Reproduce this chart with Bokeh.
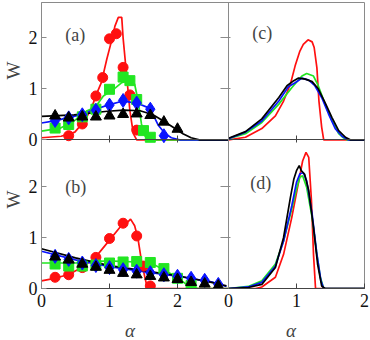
import math
from bokeh.plotting import figure
from bokeh.layouts import row, column
from bokeh.models import Range1d, LinearAxis, FixedTicker, Label, Span
from bokeh.embed import file_html
from bokeh.resources import INLINE

# ---------------- panel (a) ----------------
a_red_mx = [0.4, 0.6, 0.8, 0.9, 1.0, 1.1, 1.2, 1.3, 1.4]
a_red_my = [0.08, 0.31, 0.86, 1.22, 1.98, 2.08, 1.42, 0.88, 0.19]
a_red_lx = [0, 0.29, 0.49, 0.64, 0.74, 0.81, 0.88, 0.96, 1.03, 1.08, 1.13, 1.18, 1.2, 1.25, 1.3, 1.35, 1.4, 2.75]
a_red_ly = [0.04, 0.07, 0.15, 0.38, 0.64, 0.9, 1.12, 1.58, 1.94, 2.23, 2.4, 2.4, 2.0, 1.29, 0.57, 0.12, 0.0, 0.0]

a_grn_mx = [0.2, 0.4, 0.6, 0.8, 1.0, 1.2, 1.3, 1.4, 1.5, 1.6]
a_grn_my = [0.23, 0.30, 0.45, 0.60, 0.99, 1.23, 1.16, 0.79, 0.18, 0.05]
a_grn_lx = [0, 0.28, 0.47, 0.67, 0.79, 0.91, 1.06, 1.18, 1.28, 1.37, 1.42, 1.47, 1.52, 1.57, 2.75]
a_grn_ly = [0.17, 0.23, 0.36, 0.57, 0.64, 0.86, 0.99, 1.12, 1.16, 1.09, 0.77, 0.31, 0.08, 0.0, 0.0]

a_blu_mx = [0.2, 0.4, 0.6, 0.8, 1.0, 1.2, 1.4, 1.6, 1.8]
a_blu_my = [0.38, 0.43, 0.49, 0.58, 0.68, 0.77, 0.72, 0.60, 0.08]
a_blu_lx = [0, 0.19, 0.6, 0.79, 1.0, 1.2, 1.4, 1.55, 1.65, 1.72, 1.82, 1.91, 2.03, 2.75]
a_blu_ly = [0.33, 0.37, 0.5, 0.6, 0.69, 0.76, 0.72, 0.64, 0.47, 0.28, 0.12, 0.04, 0.0, 0.0]

a_blk_mx = [0.2, 0.4, 0.6, 0.8, 1.0, 1.2, 1.4, 1.6, 1.8, 2.0]
a_blk_my = [0.47, 0.43, 0.45, 0.45, 0.47, 0.50, 0.51, 0.48, 0.35, 0.21]
a_blk_lx = [0, 0.48, 0.97, 1.21, 1.45, 1.64, 1.78, 1.93, 2.08, 2.2, 2.32, 2.75]
a_blk_ly = [0.46, 0.49, 0.56, 0.58, 0.57, 0.49, 0.38, 0.25, 0.12, 0.04, 0.0, 0.0]

# ---------------- panel (b) ----------------
b_red_mx = [0.2, 0.4, 0.6, 0.8, 1.0, 1.2, 1.4, 1.5, 1.6]
b_red_my = [0.22, 0.27, 0.41, 0.61, 0.98, 1.28, 1.03, 0.44, 0.05]
b_red_lx = [0, 0.19, 0.39, 0.58, 0.78, 0.97, 1.16, 1.26, 1.31, 1.37, 1.42, 1.47, 1.52, 1.55, 1.57, 2.75]
b_red_ly = [0.15, 0.2, 0.27, 0.40, 0.59, 0.9, 1.21, 1.29, 1.36, 1.23, 0.97, 0.54, 0.22, 0.05, 0.0, 0.0]

b_grn_mx = [0.2, 0.4, 0.6, 0.8, 1.0, 1.2, 1.4, 1.6, 1.8, 2.0, 2.2]
b_grn_my = [0.48, 0.44, 0.44, 0.46, 0.50, 0.52, 0.53, 0.51, 0.39, 0.20, 0.06]
b_grn_lx = [0, 0.5, 0.97, 1.6, 1.79, 2.0, 2.12, 2.22, 2.3, 2.75]
b_grn_ly = [0.5, 0.5, 0.54, 0.51, 0.37, 0.22, 0.09, 0.03, 0.0, 0.0]

b_blu_mx = [0.2, 0.4, 0.6, 0.8, 1.0, 1.2, 1.4, 1.6, 1.8, 2.0, 2.2, 2.4, 2.6]
b_blu_my = [0.63, 0.57, 0.50, 0.45, 0.41, 0.37, 0.34, 0.31, 0.27, 0.24, 0.20, 0.16, 0.08]
b_blu_lx = [0, 0.5, 1.0, 1.5, 2.0, 2.5, 2.72]
b_blu_ly = [0.73, 0.56, 0.43, 0.33, 0.24, 0.13, 0.04]

b_blk_mx = [0.2, 0.4, 0.6, 0.8, 1.0, 1.2, 1.4, 1.6, 1.8, 2.0, 2.2, 2.4, 2.6]
b_blk_my = [0.62, 0.56, 0.48, 0.42, 0.36, 0.30, 0.27, 0.24, 0.21, 0.18, 0.12, 0.09, 0.05]
b_blk_lx = [0, 0.5, 1.0, 1.5, 2.0, 2.5, 2.72]
b_blk_ly = [0.78, 0.6, 0.45, 0.35, 0.25, 0.12, 0.05]

# ---------------- panel (c) ----------------
c_red_x = [0, 0.25, 0.49, 0.69, 0.81, 0.91, 0.98, 1.05, 1.10, 1.17, 1.23, 1.26, 1.30, 1.33, 1.37, 1.40, 2.0]
c_red_y = [0.0, 0.05, 0.22, 0.47, 0.76, 1.09, 1.45, 1.74, 1.87, 1.96, 1.92, 1.81, 1.41, 0.76, 0.25, 0.0, 0.0]
c_grn_x = [0, 0.25, 0.49, 0.74, 0.93, 1.08, 1.15, 1.25, 1.32, 1.42, 1.52, 1.62, 1.69, 1.74, 2.0]
c_grn_y = [0.02, 0.12, 0.34, 0.70, 1.02, 1.25, 1.30, 1.25, 1.06, 0.70, 0.38, 0.12, 0.04, 0.0, 0.0]
c_blu_x = [0, 0.25, 0.49, 0.74, 0.88, 0.98, 1.08, 1.18, 1.27, 1.37, 1.47, 1.57, 1.67, 1.76, 2.0]
c_blu_y = [0.02, 0.15, 0.37, 0.76, 1.04, 1.12, 1.21, 1.17, 1.06, 0.83, 0.51, 0.22, 0.07, 0.0, 0.0]
c_blk_x = [0, 0.25, 0.49, 0.74, 0.86, 0.96, 1.03, 1.13, 1.23, 1.32, 1.42, 1.52, 1.62, 1.72, 1.79, 2.0]
c_blk_y = [0.03, 0.16, 0.41, 0.83, 1.06, 1.16, 1.21, 1.19, 1.14, 1.0, 0.73, 0.44, 0.18, 0.05, 0.0, 0.0]

# ---------------- panel (d) ----------------
d_red_x = [0, 0.4, 0.49, 0.69, 0.81, 0.93, 1.03, 1.09, 1.14, 1.18, 1.22, 1.25, 1.28, 2.0]
d_red_y = [0.0, 0.0, 0.03, 0.22, 0.67, 1.39, 2.08, 2.5, 2.67, 2.57, 1.72, 0.67, 0.0, 0.0]
d_grn_x = [0, 0.29, 0.49, 0.69, 0.81, 0.93, 1.0, 1.05, 1.09, 1.15, 1.23, 1.30, 1.35, 1.40, 2.0]
d_grn_y = [0.0, 0.04, 0.15, 0.48, 0.93, 1.56, 1.95, 2.18, 2.21, 1.98, 1.39, 0.67, 0.22, 0.0, 0.0]
d_blu_x = [0, 0.29, 0.49, 0.69, 0.81, 0.93, 1.0, 1.05, 1.10, 1.15, 1.23, 1.30, 1.36, 1.40, 2.0]
d_blu_y = [0.0, 0.03, 0.12, 0.44, 0.93, 1.62, 2.08, 2.25, 2.27, 2.11, 1.46, 0.67, 0.15, 0.0, 0.0]
d_blk_x = [0, 0.29, 0.49, 0.69, 0.81, 0.91, 0.96, 1.0, 1.04, 1.07, 1.12, 1.18, 1.25, 1.31, 1.37, 1.42, 2.0]
d_blk_y = [0.0, 0.02, 0.08, 0.41, 1.0, 1.78, 2.14, 2.31, 2.41, 2.31, 2.24, 1.92, 1.2, 0.48, 0.05, 0.0, 0.0]

# ticks / labels
y_ticks = [0, 1, 2]
x_ticks = [0, 1, 2]
panel_names = ["(a)", "(b)", "(c)", "(d)"]
y_label = "W"
x_label = "\u03b1"

RED, GRN, BLU, BLK = "#ff1010", "#22e622", "#0a14ff", "#000000"
SERIF = "Liberation Serif"
FRAME = "#8a8a8a"
AXIS = "#444444"

PX_X = 68.0          # px per unit (x)
PX_Y = 51.0          # px per unit (y)
FRAME_W, FRAME_H = 323, 286
X_SPLIT = 187 / PX_X            # left panels span 0..2.75
Y_SPLIT = 148.7 / PX_Y          # top-panel zero offset inside bottom range
Y_MAX = FRAME_H / PX_Y
W_COL = 22                      # width of the strip carrying the "W" titles
B_MAIN = 30                     # bottom border of main figure
A_ROW = 22                      # height of the strip carrying the alpha titles

p = figure(width=370 - W_COL, height=340 - A_ROW, output_backend="svg", toolbar_location=None,
           x_axis_type=None, y_axis_type=None,
           x_range=Range1d(0, FRAME_W / PX_X), y_range=Range1d(0, Y_MAX),
           min_border_left=41 - W_COL, min_border_right=6, min_border_top=2,
           min_border_bottom=B_MAIN)
p.extra_x_ranges = {"R": Range1d(-X_SPLIT, FRAME_W / PX_X - X_SPLIT)}
p.extra_y_ranges = {"T": Range1d(-Y_SPLIT, Y_MAX - Y_SPLIT)}
p.outline_line_color = FRAME
p.outline_line_width = 1
p.background_fill_color = "white"
p.border_fill_color = "white"

# divider between left and right panels
p.add_layout(Span(location=X_SPLIT, dimension="height", line_color=FRAME, line_width=1))

# labelled left axis (both rows' ticks, shown in the lower range's coordinates)
lt = y_ticks + [t + Y_SPLIT for t in y_ticks]
left_ax = LinearAxis(ticker=FixedTicker(ticks=lt),
                     major_label_overrides={t: str(v) for t, v in zip(lt, y_ticks + y_ticks)},
                     major_tick_in=5, major_tick_out=0, minor_tick_line_color=None,
                     axis_line_color=FRAME, major_tick_line_color=FRAME,
                     major_label_text_font=SERIF, major_label_text_font_size="18px",
                     major_label_text_color="#111111", major_label_standoff=4)
p.add_layout(left_ax, "left")

# labelled bottom axis (both columns' ticks, in the left range's coordinates)
bt = x_ticks + [t + X_SPLIT for t in x_ticks]
bot_ax = LinearAxis(ticker=FixedTicker(ticks=bt),
                    major_label_overrides={t: str(v) for t, v in zip(bt, x_ticks + x_ticks)},
                    major_tick_in=5, major_tick_out=0, minor_tick_line_color=None,
                    axis_line_color=AXIS, major_tick_line_color=AXIS,
                    major_label_text_font=SERIF, major_label_text_font_size="18px",
                    major_label_text_color="#111111", major_label_standoff=5)
p.add_layout(bot_ax, "below")


def tick_axis(side, loc, ticks, tin, tout, color, xname="default", yname="default", bounds="auto"):
    ax = LinearAxis(x_range_name=xname, y_range_name=yname, fixed_location=loc, bounds=bounds,
                    ticker=FixedTicker(ticks=ticks),
                    major_label_overrides={t: "" for t in ticks},
                    major_tick_in=tin, major_tick_out=tout, minor_tick_line_color=None,
                    axis_line_color=color, major_tick_line_color=color)
    p.add_layout(ax, side)


# ticks on the shared vertical border
tick_axis("left", X_SPLIT, [1, 2], 2, 8, FRAME, yname="T", bounds=(-0.2, Y_MAX - Y_SPLIT))
tick_axis("left", X_SPLIT, [1, 2], 2, 8, FRAME, bounds=(0, 138 / PX_Y))
# zero lines of the upper panels
tick_axis("below", 0, [1, 2], 4, 3, AXIS, yname="T", bounds=(0, X_SPLIT))
tick_axis("below", 0, [1], 4, 3, AXIS, xname="R", yname="T", bounds=(0, 2.0))

LW = 1.7

# panel (a)
for lx, ly, c in [(a_red_lx, a_red_ly, RED), (a_grn_lx, a_grn_ly, GRN),
                  (a_blu_lx, a_blu_ly, BLU), (a_blk_lx, a_blk_ly, BLK)]:
    p.line(lx, ly, line_color=c, line_width=LW, y_range_name="T")
p.scatter(a_red_mx, a_red_my, marker="circle", size=10, color=RED, y_range_name="T")
p.scatter(a_grn_mx, a_grn_my, marker="square", size=10, color=GRN, y_range_name="T")
p.scatter(a_blu_mx, a_blu_my, marker="diamond", size=14, color=BLU, y_range_name="T")
p.scatter(a_blk_mx, a_blk_my, marker="triangle", size=11, color=BLK, y_range_name="T")

# panel (b)
for lx, ly, c in [(b_red_lx, b_red_ly, RED), (b_grn_lx, b_grn_ly, GRN),
                  (b_blu_lx, b_blu_ly, BLU), (b_blk_lx, b_blk_ly, BLK)]:
    p.line(lx, ly, line_color=c, line_width=LW)
p.scatter(b_red_mx, b_red_my, marker="circle", size=10, color=RED)
p.scatter(b_grn_mx, b_grn_my, marker="square", size=10, color=GRN)
p.scatter(b_blu_mx, b_blu_my, marker="diamond", size=14, color=BLU)
p.scatter(b_blk_mx, b_blk_my, marker="triangle", size=11, color=BLK)

# panel (c)
for lx, ly, c in [(c_red_x, c_red_y, RED), (c_grn_x, c_grn_y, GRN),
                  (c_blu_x, c_blu_y, BLU), (c_blk_x, c_blk_y, BLK)]:
    p.line(lx, ly, line_color=c, line_width=LW, x_range_name="R", y_range_name="T")

# panel (d)
for lx, ly, c in [(d_red_x, d_red_y, RED), (d_grn_x, d_grn_y, GRN),
                  (d_blu_x, d_blu_y, BLU), (d_blk_x, d_blk_y, BLK)]:
    p.line(lx, ly, line_color=c, line_width=LW, x_range_name="R")

# panel letters
for txt, x, y, xr, yr in [(panel_names[0], 0.35, 2.06, "default", "T"),
                          (panel_names[1], 0.35, 2.0, "default", "default"),
                          (panel_names[2], 0.35, 2.09, "R", "T"),
                          (panel_names[3], 0.32, 2.07, "R", "default")]:
    p.add_layout(Label(x=x, y=y, x_range_name=xr, y_range_name=yr, text=txt,
                       text_font=SERIF, text_font_size="18px",
                       text_baseline="middle", text_align="left"))

# ---- strip with the two "W" titles (same vertical mapping as the main plot) ----
wfig = figure(width=W_COL, height=340 - A_ROW, output_backend="svg", toolbar_location=None,
              x_axis_type=None, y_axis_type=None,
              x_range=Range1d(0, W_COL), y_range=Range1d(-B_MAIN / PX_Y, (288 + 0) / PX_Y),
              min_border=0)
wfig.outline_line_color = None
wfig.border_fill_color = "white"
for yc in [1.246 + Y_SPLIT, 1.353]:
    wfig.add_layout(Label(x=12.5, y=yc, text=y_label, angle=math.pi / 2,
                          text_font=SERIF, text_font_size="19px",
                          text_baseline="middle", text_align="center"))

# ---- strip with the two alpha titles (same horizontal mapping as the main plot) ----
afig = figure(width=370, height=A_ROW, output_backend="svg", toolbar_location=None,
              x_axis_type=None, y_axis_type=None,
              x_range=Range1d(-41 / PX_X, (370 - 41) / PX_X), y_range=Range1d(0, A_ROW),
              min_border=0)
afig.extra_x_ranges = {"R": Range1d(-41 / PX_X - X_SPLIT, (370 - 41) / PX_X - X_SPLIT)}
afig.outline_line_color = None
afig.border_fill_color = "white"
for xr, xc in [("default", 1.30), ("R", 0.92)]:
    afig.add_layout(Label(x=xc, y=10, x_range_name=xr, text=x_label,
                          text_font=SERIF, text_font_size="19px", text_font_style="italic",
                          text_baseline="middle", text_align="center"))

layout = column(row(wfig, p, spacing=0), afig, spacing=0)
open("out.html", "w").write(file_html(layout, INLINE))
